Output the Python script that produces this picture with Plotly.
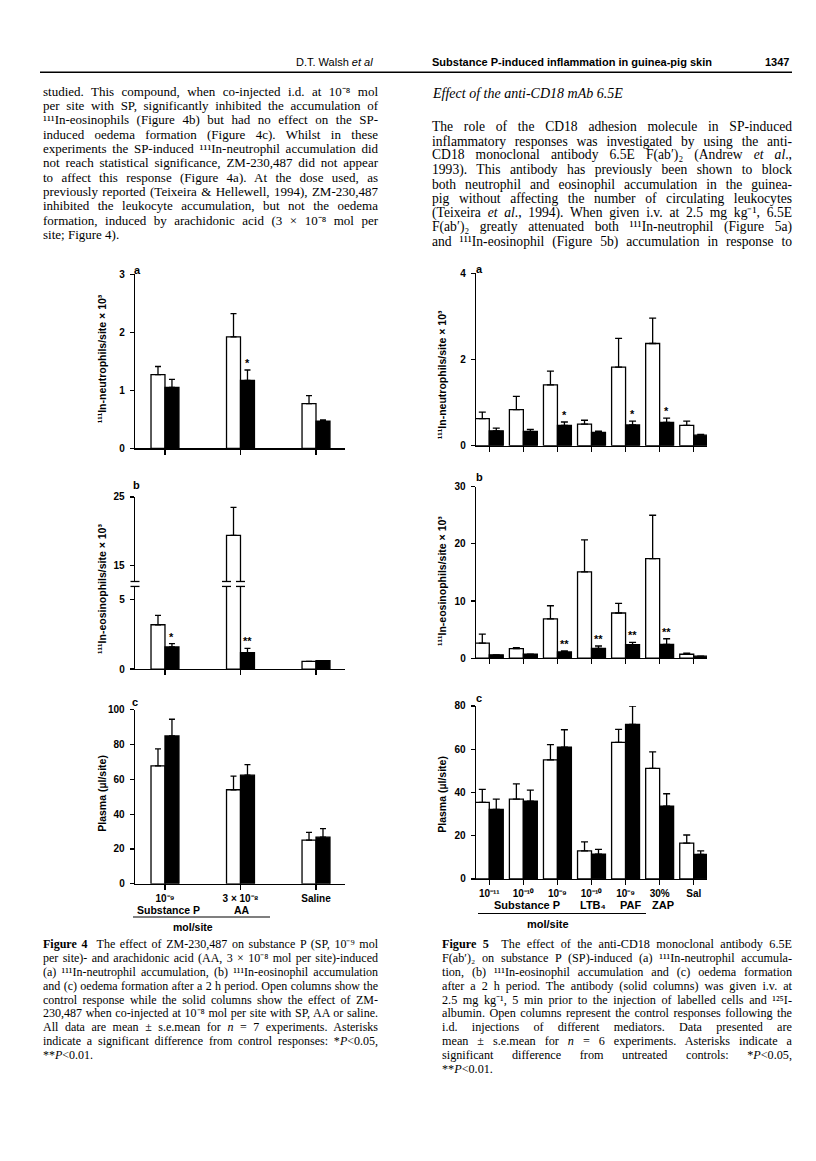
import json
import plotly.graph_objects as go

W, H = 816, 1161

# ================= Figure 4 data =================
fig4_groups = [0, 1, 2]
fig4_ticklabels = ["10⁻⁹", "3 × 10⁻⁸", "Saline"]
fig4a_open = [1.27, 1.92, 0.77]
fig4a_open_sem = [0.14, 0.40, 0.14]
fig4a_solid = [1.05, 1.17, 0.47]
fig4a_solid_sem = [0.14, 0.18, 0.02]
fig4a_sig = ["", "*", ""]
fig4b_open = [3.2, 19.35, 0.55]
fig4b_open_sem = [0.68, 4.1, 0.0]
fig4b_solid = [1.6, 1.19, 0.6]
fig4b_solid_sem = [0.24, 0.31, 0.0]
fig4b_sig = ["*", "**", ""]
fig4c_open = [67.7, 54.0, 25.1]
fig4c_open_sem = [9.8, 7.8, 4.4]
fig4c_solid = [84.9, 62.4, 26.8]
fig4c_solid_sem = [9.6, 6.0, 4.9]
fig4c_sig = ["", "", ""]

# ================= Figure 5 data =================
fig5_groups = [0, 1, 2, 3, 4, 5, 6]
fig5_ticklabels = ["10⁻¹¹", "10⁻¹⁰", "10⁻⁹", "10⁻¹⁰", "10⁻⁹", "30%", "Sal"]
fig5a_open = [0.63, 0.835, 1.41, 0.50, 1.82, 2.37, 0.47]
fig5a_open_sem = [0.15, 0.31, 0.32, 0.09, 0.67, 0.59, 0.10]
fig5a_solid = [0.345, 0.33, 0.47, 0.31, 0.48, 0.54, 0.245]
fig5a_solid_sem = [0.065, 0.05, 0.08, 0.03, 0.09, 0.10, 0.015]
fig5a_sig = ["", "", "*", "", "*", "*", ""]
fig5b_open = [2.65, 1.67, 6.87, 15.1, 7.9, 17.4, 0.69]
fig5b_open_sem = [1.55, 0.18, 2.3, 5.6, 1.7, 7.6, 0.18]
fig5b_solid = [0.58, 0.69, 1.1, 1.73, 2.37, 2.42, 0.35]
fig5b_solid_sem = [0.0, 0.0, 0.17, 0.4, 0.4, 0.98, 0.0]
fig5b_sig = ["", "", "**", "**", "**", "**", ""]
fig5c_open = [35.4, 36.9, 55.1, 13.0, 63.2, 51.1, 16.5]
fig5c_open_sem = [6.0, 7.1, 7.0, 4.1, 6.0, 7.7, 3.8]
fig5c_solid = [32.2, 36.0, 60.9, 11.5, 71.5, 33.6, 11.3]
fig5c_solid_sem = [4.7, 5.1, 8.1, 2.2, 8.5, 5.8, 1.7]
fig5c_sig = ["", "", "", "", "", "", ""]

# ================= page text =================
header_left = "D.T. Walsh <i>et al</i>"
header_mid = "<b>Substance P-induced inflammation in guinea-pig skin</b>"
header_page = "<b>1347</b>"

left_body = [
    "studied. This compound, when co-injected i.d. at 10⁻⁸ mol",
    "per site with SP, significantly inhibited the accumulation of",
    "¹¹¹In-eosinophils (Figure 4b) but had no effect on the SP-",
    "induced oedema formation (Figure 4c). Whilst in these",
    "experiments the SP-induced ¹¹¹In-neutrophil accumulation did",
    "not reach statistical significance, ZM-230,487 did not appear",
    "to affect this response (Figure 4a). At the dose used, as",
    "previously reported (Teixeira &amp; Hellewell, 1994), ZM-230,487",
    "inhibited the leukocyte accumulation, but not the oedema",
    "formation, induced by arachidonic acid (3 × 10⁻⁸ mol per",
    "site; Figure 4).",
]
right_heading = "<i>Effect of the anti-CD18 mAb 6.5E</i>"
right_body = [
    "The role of the CD18 adhesion molecule in SP-induced",
    "inflammatory responses was investigated by using the anti-",
    "CD18 monoclonal antibody 6.5E F(ab′)₂ (Andrew <i>et al</i>.,",
    "1993). This antibody has previously been shown to block",
    "both neutrophil and eosinophil accumulation in the guinea-",
    "pig without affecting the number of circulating leukocytes",
    "(Teixeira <i>et al</i>., 1994). When given i.v. at 2.5 mg kg⁻¹, 6.5E",
    "F(ab′)₂ greatly attenuated both ¹¹¹In-neutrophil (Figure 5a)",
    "and ¹¹¹In-eosinophil (Figure 5b) accumulation in response to",
]
caption4 = [
    "<b>Figure 4</b>  The effect of ZM-230,487 on substance P (SP, 10⁻⁹ mol",
    "per site)- and arachidonic acid (AA, 3 × 10⁻⁸ mol per site)-induced",
    "(a) ¹¹¹In-neutrophil accumulation, (b) ¹¹¹In-eosinophil accumulation",
    "and (c) oedema formation after a 2 h period. Open columns show the",
    "control response while the solid columns show the effect of ZM-",
    "230,487 when co-injected at 10⁻⁸ mol per site with SP, AA or saline.",
    "All data are mean ± s.e.mean for <i>n</i> = 7 experiments. Asterisks",
    "indicate a significant difference from control responses: *<i>P</i>&lt;0.05,",
    "**<i>P</i>&lt;0.01.",
]
caption5 = [
    "<b>Figure 5</b>  The effect of the anti-CD18 monoclonal antibody 6.5E",
    "F(ab′)₂ on substance P (SP)-induced (a) ¹¹¹In-neutrophil accumula-",
    "tion, (b) ¹¹¹In-eosinophil accumulation and (c) oedema formation",
    "after a 2 h period. The antibody (solid columns) was given i.v. at",
    "2.5 mg kg⁻¹, 5 min prior to the injection of labelled cells and ¹²⁵I-",
    "albumin. Open columns represent the control responses following the",
    "i.d. injections of different mediators. Data presented are",
    "mean ± s.e.mean for <i>n</i> = 6 experiments. Asterisks indicate a",
    "significant difference from untreated controls: *<i>P</i>&lt;0.05,",
    "**<i>P</i>&lt;0.01.",
]
ytitle_neut = "¹¹¹In-neutrophils/site × 10³"
ytitle_eos = "¹¹¹In-eosinophils/site × 10³"
ytitle_plasma = "Plasma (µl/site)"
fig4_agents = ["Substance P", "AA"]
fig5_agents = ["Substance P", "LTB₄", "PAF", "ZAP"]
unit_label = "mol/site"

# ================= helpers =================
SANS = "Liberation Sans, Arial, Helvetica, sans-serif"
SERIF = "Liberation Serif, Times New Roman, serif"


def X(px):
    return px / W


def Y(py):
    return 1 - py / H


fig = go.Figure()
axes_layout = {}
annotations = []
shapes = []
justify = []  # [annotation index, target width px]


def aname(n, letter):
    return letter if n == 1 else f"{letter}{n}"


def akey(n, letter):
    return letter + "axis" + ("" if n == 1 else str(n))


def setup_panel(n, xpx, ypx, xr, yr, ytickvals, xticks=None, xticktext=None, show_x=True):
    tf = dict(family=SANS, size=10, color="black", weight="bold")
    xa = dict(domain=[X(xpx[0]), X(xpx[1])], range=list(xr), anchor=aname(n, "y"),
              showgrid=False, zeroline=False, fixedrange=True)
    if show_x:
        xa.update(showline=True, linecolor="black", linewidth=1.3, ticks="outside",
                  ticklen=5, tickwidth=1.3, tickcolor="black", tickvals=xticks)
        if xticktext is not None:
            xa.update(ticktext=xticktext, showticklabels=True, tickfont=tf, ticklabelstandoff=0)
        else:
            xa.update(showticklabels=False)
    else:
        xa.update(visible=False)
    ya = dict(domain=[Y(ypx[0]), Y(ypx[1])], range=list(yr), anchor=aname(n, "x"),
              showgrid=False, zeroline=False, showline=True, linecolor="black", linewidth=1.3,
              ticks="outside", ticklen=4, tickwidth=1.3, tickcolor="black",
              tickvals=ytickvals, tickfont=tf, ticklabelstandoff=3, fixedrange=True)
    axes_layout[akey(n, "x")] = xa
    axes_layout[akey(n, "y")] = ya


def add_pair(n, groups, vo, so, vs, ss, w, capw, sig=None, visible_above=None):
    xa, ya = aname(n, "x"), aname(n, "y")
    if visible_above is not None:
        so = [s if v > visible_above else None for v, s in zip(vo, so)]
        ss = [s if v > visible_above else None for v, s in zip(vs, ss)]
    for vals, sems, fill, off in ((vo, so, "white", -w), (vs, ss, "black", 0.0)):
        fig.add_trace(go.Bar(
            x=groups, y=vals, width=w, offset=off, xaxis=xa, yaxis=ya,
            marker=dict(color=fill, line=dict(color="black", width=1.3)),
            error_y=dict(type="data", array=sems, arrayminus=[0] * len(sems), symmetric=False,
                         color="black", thickness=1.3, width=capw),
            showlegend=False, hoverinfo="skip"))
    if sig:
        for g, v, s, t in zip(groups, vs, ss, sig):
            if t:
                annotations.append(dict(x=g + w / 2, y=v + (s or 0), xref=xa, yref=ya, text=t,
                                        showarrow=False, yanchor="bottom", xanchor="center",
                                        yshift=-1,
                                        font=dict(family=SANS, size=11, color="black", weight="bold")))


def txt(xpx, ypx, s, size, family=SERIF, xanchor="left", angle=0, weight="normal", width=None):
    if width is not None:
        justify.append([len(annotations), width])
    annotations.append(dict(x=X(xpx), y=Y(ypx), xref="paper", yref="paper", text=s,
                            showarrow=False, xanchor=xanchor, yanchor="middle",
                            textangle=angle, align=xanchor if xanchor != "center" else "center",
                            font=dict(family=family, size=size, color="black", weight=weight)))


def hline(x0, x1, ypx, width=1.3):
    shapes.append(dict(type="line", xref="paper", yref="paper", x0=X(x0), x1=X(x1),
                       y0=Y(ypx), y1=Y(ypx), line=dict(color="black", width=width)))


# ================= Figure 4 panels =================
F4X = (135, 345)
F4R = (-0.397, 2.384)
W4 = 0.185
setup_panel(1, F4X, (447, 271), F4R, (0, 3), [0, 1, 2, 3], xticks=fig4_groups)
add_pair(1, fig4_groups, fig4a_open, fig4a_open_sem, fig4a_solid, fig4a_solid_sem, W4, 3, fig4a_sig)

# broken axis panel b
LO_BOT, LO_TOP, HI_BOT, HI_TOP = 670, 586.5, 581.5, 496
lo_max = (LO_BOT - LO_TOP) / 14.0
hi_min = 15 - (HI_BOT - 565) / 6.9
setup_panel(2, F4X, (LO_BOT, LO_TOP), F4R, (0, lo_max), [0, 5], xticks=fig4_groups)
setup_panel(3, F4X, (HI_BOT, HI_TOP), F4R, (hi_min, 25), [15, 25], show_x=False)
add_pair(2, fig4_groups, fig4b_open, fig4b_open_sem, fig4b_solid, fig4b_solid_sem, W4, 3, fig4b_sig)
add_pair(3, fig4_groups, fig4b_open, fig4b_open_sem, fig4b_solid, fig4b_solid_sem, W4, 3,
         visible_above=hi_min)


def data_to_px(xv, xpx, xr):
    return xpx[0] + (xv - xr[0]) / (xr[1] - xr[0]) * (xpx[1] - xpx[0])


break_xs = [F4X[0]]
for g, v in zip(fig4_groups, fig4b_open):
    if v > hi_min:
        break_xs += [data_to_px(g - W4, F4X, F4R), data_to_px(g, F4X, F4R)]
for bx in break_xs:
    for by in (HI_BOT, LO_TOP):
        hline(bx - 4.5, bx + 4.5, by, 1.3)

setup_panel(4, F4X, (887, 711), F4R, (0, 100), [0, 20, 40, 60, 80, 100],
            xticks=fig4_groups, xticktext=fig4_ticklabels)
add_pair(4, fig4_groups, fig4c_open, fig4c_open_sem, fig4c_solid, fig4c_solid_sem, W4, 3, fig4c_sig)

# ================= Figure 5 panels =================
F5X = (476, 707)
F5R = (-0.39, 6.39)
W5 = 0.41
setup_panel(5, F5X, (444.3, 270), F5R, (0, 4), [0, 2, 4], xticks=fig5_groups)
add_pair(5, fig5_groups, fig5a_open, fig5a_open_sem, fig5a_solid, fig5a_solid_sem, W5, 3.5, fig5a_sig)
setup_panel(6, F5X, (659, 485.7), F5R, (0, 30), [0, 10, 20, 30], xticks=fig5_groups)
add_pair(6, fig5_groups, fig5b_open, fig5b_open_sem, fig5b_solid, fig5b_solid_sem, W5, 3.5, fig5b_sig)
setup_panel(7, F5X, (882, 707.3), F5R, (0, 80), [0, 20, 40, 60, 80],
            xticks=fig5_groups, xticktext=fig5_ticklabels)
add_pair(7, fig5_groups, fig5c_open, fig5c_open_sem, fig5c_solid, fig5c_solid_sem, W5, 3.5, fig5c_sig)

# ================= panel letters, axis titles, group labels =================
for xp, yp, letter in ((137, 267, "a"), (136, 484, "b"), (135, 703, "c"),
                       (479, 266, "a"), (479, 476, "b"), (479, 699, "c")):
    txt(xp, yp, letter, 11, SANS, "center", weight="bold")

txt(102, 357, ytitle_neut, 10.5, SANS, "center", -90, "bold")
txt(102, 589, ytitle_eos, 10.5, SANS, "center", -90, "bold")
txt(102, 796, ytitle_plasma, 10.5, SANS, "center", -90, "bold")
txt(442, 372, ytitle_neut, 10.5, SANS, "center", -90, "bold")
txt(442, 581, ytitle_eos, 10.5, SANS, "center", -90, "bold")
txt(442, 796, ytitle_plasma, 10.5, SANS, "center", -90, "bold")

for xp, lab in zip((168, 242), fig4_agents):
    txt(xp, 913.5, lab, 10.5, SANS, "center", weight="bold")
hline(133, 270, 920.5, 1.2)
txt(193, 930.5, unit_label, 10.5, SANS, "center", weight="bold")

for xp, lab in zip((527, 593, 630, 663), fig5_agents):
    txt(xp, 908, lab, 11, SANS, "center", weight="bold")
hline(478, 646, 917, 1.2)
txt(548, 927.5, unit_label, 11, SANS, "center", weight="bold")

# ================= page text =================
txt(375, 57, header_left, 11, SANS, "right")
txt(430, 57, header_mid, 11, SANS, "left")
txt(791, 57, header_page, 11, SANS, "right")
hline(40, 792, 67, 1.6)

for i, line in enumerate(left_body):
    last = i == len(left_body) - 1
    txt(41, 86 + 14.5 * i, line, 13, width=None if last else 335)
txt(430, 88, right_heading, 14)
for i, line in enumerate(right_body):
    txt(430, 122 + 14.5 * i, line, 13.6, width=360)
for i, line in enumerate(caption4):
    last = i == len(caption4) - 1
    txt(41, 948 + 14 * i, line, 12, width=None if last else 335)
for i, line in enumerate(caption5):
    last = i == len(caption5) - 1
    txt(440, 948 + 14 * i, line, 12.2, width=None if last else 350)

fig.update_layout(
    width=W, height=H, autosize=False,
    margin=dict(l=0, r=0, t=0, b=0, pad=0),
    paper_bgcolor="white", plot_bgcolor="rgba(0,0,0,0)",
    font=dict(family=SERIF, size=12, color="black"),
    barmode="overlay", showlegend=False,
    annotations=annotations, shapes=shapes,
    **axes_layout,
)

post = """
document.body.style.margin='0';document.body.style.overflow='hidden';
var gd = document.getElementById('{plot_id}');
var spec = %s;
spec.forEach(function(s){
  var g = gd.querySelector('g.annotation[data-index="' + s[0] + '"]');
  if(!g) return;
  var t = g.querySelector('text.annotation-text');
  if(!t) return;
  var len = t.getComputedTextLength();
  var n = (t.textContent.match(/ /g) || []).length;
  if(n > 0 && s[1] > len) { t.style.wordSpacing = ((s[1] - len) / n) + 'px'; }
});
""" % json.dumps(justify)

fig.write_html("out.html", config={"displayModeBar": False, "staticPlot": True}, post_script=post)
